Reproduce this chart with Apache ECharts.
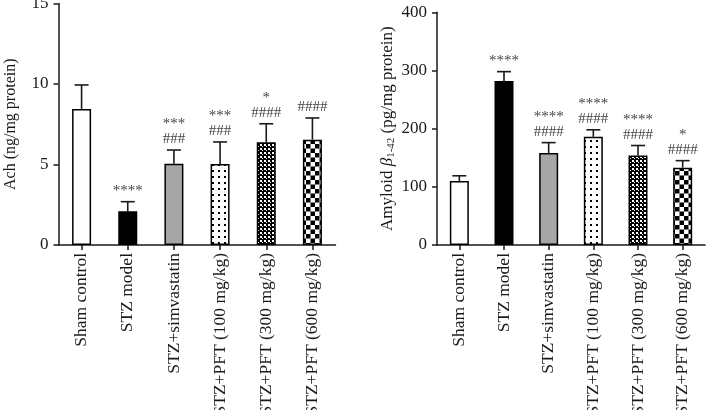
<!DOCTYPE html>
<html>
<head>
<meta charset="utf-8">
<script src="https://cdn.jsdelivr.net/npm/echarts@6/dist/echarts.min.js"></script>
<style>html,body{margin:0;padding:0;background:#fff}#c{width:707px;height:410px}</style>
</head>
<body>
<div id="c"></div>
<script>
const categories = ['Sham control','STZ model','STZ+simvastatin','STZ+PFT (100 mg/kg)','STZ+PFT (300 mg/kg)','STZ+PFT (600 mg/kg)'];
const achMean = [8.45, 2.1, 5.05, 5.03, 6.38, 6.54];
const achSD = [1.49, 0.59, 0.85, 1.37, 1.15, 1.35];
const achAnno = ['', '****', '***\n###', '***\n###', '*\n####', '####'];
const abMean = [110, 282, 158, 186, 154, 133];
const abSD = [9, 16, 18, 12, 17, 12];
const abAnno = ['', '****', '****\n####', '****\n####', '****\n####', '*\n####'];
const achTicks = {min: 0, max: 15, interval: 5};
const abTicks = {min: 0, max: 400, interval: 100};

function makePattern(w, h, draw) {
  const c = document.createElement('canvas');
  c.width = w; c.height = h;
  const g = c.getContext('2d');
  draw(g, w, h);
  return {image: c, repeat: 'repeat'};
}
const patDots = makePattern(6, 6, (g) => { g.fillStyle = '#fff'; g.fillRect(0,0,6,6); g.fillStyle = '#000'; g.fillRect(2,2,2,2); });
const patDense = makePattern(4, 4, (g) => { g.fillStyle = '#000'; g.fillRect(0,0,4,4); g.fillStyle = '#fff'; g.fillRect(0,0,2,2); g.fillRect(2,2,1,1); });
const patCheck = makePattern(9, 9, (g) => { g.fillStyle = '#fff'; g.fillRect(0,0,9,9); g.fillStyle = '#000'; g.fillRect(0,0,4.5,4.5); g.fillRect(4.5,4.5,4.5,4.5); });
const fills = ['#ffffff', '#000000', '#a6a6a6', patDots, patDense, patCheck];

const FONT = '"Liberation Serif", "DejaVu Serif", serif';

function barData(vals) {
  return vals.map((v, i) => ({value: v, itemStyle: {color: fills[i], borderColor: '#000', borderWidth: 1.5}}));
}
function errSeries(idx, means, sds, annos) {
  return {
    type: 'custom', xAxisIndex: idx, yAxisIndex: idx, z: 5,
    data: means.map((m, i) => [i, m, sds[i]]),
    renderItem: function (params, api) {
      const x = api.value(0), m = api.value(1), s = api.value(2);
      const p0 = api.coord([x, m]);
      const p1 = api.coord([x, m + s]);
      const cap = 7;
      const st = {stroke: '#1a1a1a', lineWidth: 1.6};
      const children = [
        {type: 'line', shape: {x1: p0[0], y1: p0[1], x2: p1[0], y2: p1[1]}, style: st},
        {type: 'line', shape: {x1: p1[0] - cap, y1: p1[1], x2: p1[0] + cap, y2: p1[1]}, style: st}
      ];
      const t = annos[params.dataIndex];
      if (t) {
        children.push({type: 'text', style: {text: t, x: p1[0], y: p1[1] - 3, align: 'center', verticalAlign: 'bottom', font: '15px ' + FONT, fill: '#444', lineHeight: 15}});
      }
      return {type: 'group', children: children};
    }
  };
}
const axisLine = {show: true, lineStyle: {color: '#1a1a1a', width: 1.5}};
function xAx(idx) {
  return {
    type: 'category', gridIndex: idx, data: categories,
    axisLine: axisLine,
    axisTick: {show: true, alignWithLabel: true, length: 5, lineStyle: {color: '#1a1a1a', width: 1.5}},
    axisLabel: {rotate: 90, margin: 8, fontFamily: FONT, fontSize: 17.5, color: '#1a1a1a', interval: 0},
    splitLine: {show: false}
  };
}
function yAx(idx, t, name, fs) {
  return {
    type: 'value', gridIndex: idx, min: t.min, max: t.max, interval: t.interval,
    axisLine: axisLine,
    axisTick: {show: true, length: 5, lineStyle: {color: '#1a1a1a', width: 1.5}},
    axisLabel: {fontFamily: FONT, fontSize: 17, color: '#1a1a1a', margin: 10},
    splitLine: {show: false},
    name: name, nameLocation: 'middle', nameGap: 40,
    nameTextStyle: {fontFamily: FONT, fontSize: fs, color: '#1a1a1a',
      rich: {
        t: {fontFamily: FONT, fontSize: fs, color: '#1a1a1a'},
        b: {fontFamily: FONT, fontSize: fs, fontStyle: 'italic', color: '#1a1a1a'},
        s: {fontFamily: FONT, fontSize: 11, color: '#1a1a1a', verticalAlign: 'bottom', padding: [7, 0, 0, 0]}
      }}
  };
}
const chart = echarts.init(document.getElementById('c'), null, {renderer: 'canvas'});
chart.setOption({
  animation: false,
  backgroundColor: '#fff',
  grid: [
    {left: 58.5, top: 3.5, width: 277, height: 241.5, containLabel: false, outerBoundsMode: 'none'},
    {left: 437, top: 12.3, width: 268, height: 232.7, containLabel: false, outerBoundsMode: 'none'}
  ],
  xAxis: [xAx(0), xAx(1)],
  yAxis: [yAx(0, achTicks, 'Ach (ng/mg protein)', 16), yAx(1, abTicks, '{t|Amyloid }{b|β}{s|1-42}{t| (pg/mg protein)}', 17)],
  series: [
    {type: 'bar', xAxisIndex: 0, yAxisIndex: 0, barWidth: 19, data: barData(achMean)},
    errSeries(0, achMean, achSD, achAnno),
    {type: 'bar', xAxisIndex: 1, yAxisIndex: 1, barWidth: 19, data: barData(abMean)},
    errSeries(1, abMean, abSD, abAnno)
  ]
});
</script>
</body>
</html>
